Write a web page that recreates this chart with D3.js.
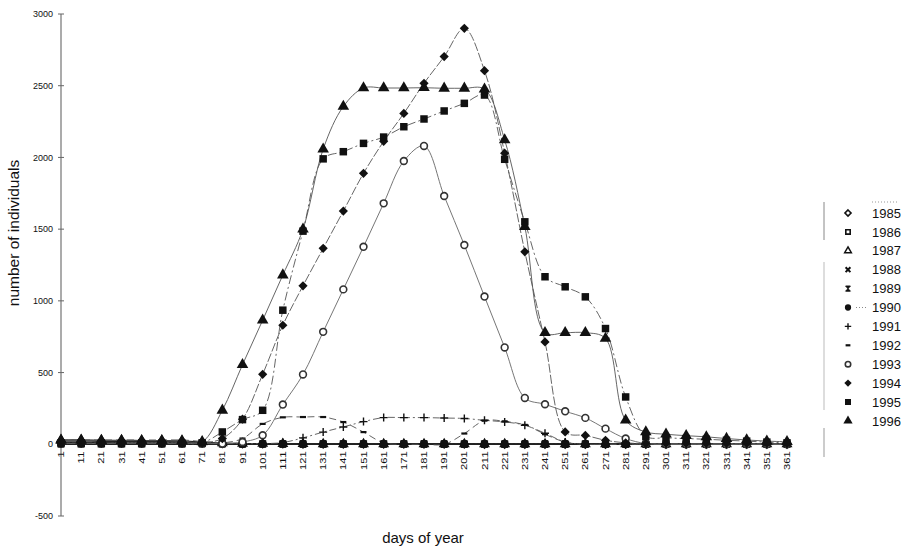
<!DOCTYPE html>
<html>
<head>
<meta charset="utf-8">
<script src="https://cdn.jsdelivr.net/npm/d3@7/dist/d3.min.js"></script>
<style>
  body { margin: 0; background: #fff; }
  text { font-family: Arial, "Liberation Sans", sans-serif; fill: #111; }
</style>
</head>
<body>
<svg id="chart" width="907" height="550"></svg>
<script>
// Sampling days (every 10th day of the year)
const days = [1, 11, 21, 31, 41, 51, 61, 71, 81, 91, 101, 111, 121, 131, 141, 151, 161, 171, 181,
              191, 201, 211, 221, 231, 241, 251, 261, 271, 281, 291, 301, 311, 321, 331, 341, 351, 361];

const yTicks = [-500, 0, 500, 1000, 1500, 2000, 2500, 3000];

const years = ["1985", "1986", "1987", "1988", "1989", "1990", "1991", "1992", "1993", "1994", "1995", "1996"];

// Counts per sampling day, one array per year
const v1985 = [22, 22, 20, 20, 18, 18, 16, 10, 5, 4, 3, 3, 2, 2, 2, 2, 2, 2, 2, 2, 2, 0, 0, 0, 0, 0, 0, 0, 0, 0, 0, 0, 0, 0, 0, 0, 0];
const v1986 = [12, 12, 12, 10, 10, 10, 10, 8, 4, 3, 2, 2, 2, 2, 2, 2, 2, 2, 2, 0, 0, 0, 0, 0, 0, 0, 0, 0, 0, 0, 0, 0, 0, 0, 0, 0, 0];
const v1987 = [30, 30, 28, 28, 26, 26, 24, 15, 8, 5, 4, 3, 3, 2, 2, 2, 2, 2, 2, 2, 2, 2, 2, 2, 2, 2, 2, 2, 2, 2, 2, 2, 2, 2, 2, 2, 2];
const v1988 = [5, 5, 5, 5, 5, 5, 5, 5, 4, 3, 3, 2, 2, 2, 2, 2, 2, 2, 2, 2, 2, 2, 2, 2, 2, 2, 2, 2, 2, 2, 2, 2, 2, 2, 2, 2, 2];
const v1989 = [3, 3, 3, 3, 3, 3, 3, 3, 3, 2, 2, 2, 2, 2, 2, 2, 2, 2, 2, 2, 2, 2, 2, 2, 2, 2, 2, 2, 2, 2, 2, 2, 2, 2, 2, 2, 2];
const v1990 = [8, 8, 8, 8, 8, 8, 8, 8, 6, 5, 5, 5, 3, 3, 3, 3, 3, 3, 3, 3, 3, 3, 3, 3, 3, 3, 3, 3, 3, 3, 3, 3, 3, 3, 3, 3, 3];
const v1991 = [5, 5, 5, 5, 5, 5, 5, 5, 5, 5, 5, 12, 45, 85, 121, 158, 186, 186, 186, 183, 180, 167, 156, 133, 77, 16, 0, 0, 0, 0, 0, 0, 0, 0, 0, 0, 0];
const v1992 = [30, 30, 30, 30, 30, 30, 30, 20, 10, 40, 142, 188, 190, 190, 155, 85, 10, 0, 0, 0, 75, 165, 160, 135, 70, 15, 0, 0, 0, 0, 0, 0, 0, 0, 0, 0, 0];
const v1993 = [5, 5, 5, 5, 5, 5, 5, 5, 5, 16, 63, 277, 487, 784, 1080, 1377, 1680, 1975, 2080, 1731, 1389, 1030, 675, 323, 279, 230, 184, 109, 40, 5, 0, 0, 0, 0, 0, 0, 0];
const v1994 = [8, 8, 8, 8, 8, 8, 8, 10, 40, 175, 488, 830, 1105, 1366, 1626, 1889, 2112, 2307, 2517, 2703, 2900, 2605, 2030, 1342, 714, 86, 62, 28, 10, 5, 5, 5, 5, 5, 5, 5, 5];
const v1995 = [5, 5, 5, 5, 5, 5, 5, 10, 86, 172, 237, 935, 1486, 1990, 2040, 2098, 2142, 2214, 2268, 2324, 2377, 2435, 1987, 1551, 1168, 1098, 1028, 807, 330, 56, 45, 40, 35, 28, 22, 15, 10];
const v1996 = [28, 28, 26, 26, 25, 25, 24, 18, 237, 555, 865, 1180, 1500, 2058, 2355, 2484, 2484, 2484, 2486, 2482, 2482, 2476, 2122, 1517, 778, 778, 778, 738, 168, 86, 70, 60, 52, 40, 30, 22, 18];

const valuesByYear = [v1985, v1986, v1987, v1988, v1989, v1990, v1991, v1992, v1993, v1994, v1995, v1996];

// Marker and line style per year
const styles = {
  "1985": { marker: "diamondOpen",  line: "#222", dash: null,          width: 1.2 },
  "1986": { marker: "squareOpen",   line: "#222", dash: null,          width: 1.2 },
  "1987": { marker: "triangleOpen", line: "#222", dash: null,          width: 1.2 },
  "1988": { marker: "cross",        line: "#222", dash: null,          width: 1.2 },
  "1989": { marker: "hourglass",    line: "#222", dash: null,          width: 1.2 },
  "1990": { marker: "circle",       line: "#222", dash: "2,2",         width: 1.2 },
  "1991": { marker: "plus",         line: "#555", dash: "7,3,2,3",     width: 0.9 },
  "1992": { marker: "dash",         line: "#555", dash: "7,4",         width: 0.9 },
  "1993": { marker: "circleOpen",   line: "#666", dash: null,          width: 0.9 },
  "1994": { marker: "diamond",      line: "#555", dash: "9,2",         width: 0.9 },
  "1995": { marker: "square",       line: "#555", dash: "9,3,2,3",     width: 0.9 },
  "1996": { marker: "triangle",     line: "#555", dash: null,          width: 0.9 }
};

const series = years.map((y, i) => ({
  year: y,
  style: styles[y],
  points: days.map((d, j) => ({ day: d, value: valuesByYear[i][j] }))
}));

const svg = d3.select("#chart");
svg.append("rect").attr("width", 907).attr("height", 550).attr("fill", "#fff");

const x = d3.scalePoint().domain(days).range([61, 787]);
const y = d3.scaleLinear().domain([-500, 3000]).range([516, 14]);

// Rhombus with equal width and height, half-diagonal r
const rhombus = r => `M0,${-r}L${r},0L0,${r}L${-r},0Z`;

// Draws one marker shape into a <g> selection
function drawMarker(g, type, s) {
  const sym = (t, size) => d3.symbol(t, size * s * s)();
  switch (type) {
    case "diamondOpen":
      g.append("path").attr("d", rhombus(3.8 * s)).attr("fill", "#fff").attr("stroke", "#111").attr("stroke-width", 1.6);
      break;
    case "squareOpen":
      g.append("path").attr("d", sym(d3.symbolSquare, 30)).attr("fill", "#fff").attr("stroke", "#111").attr("stroke-width", 1.6);
      break;
    case "triangleOpen":
      g.append("path").attr("d", sym(d3.symbolTriangle, 30)).attr("fill", "#fff").attr("stroke", "#111").attr("stroke-width", 1.5);
      break;
    case "cross":
      g.append("path").attr("d", `M${-3 * s},${-3 * s}L${3 * s},${3 * s}M${-3 * s},${3 * s}L${3 * s},${-3 * s}`)
        .attr("stroke", "#111").attr("stroke-width", 2).attr("fill", "none");
      break;
    case "hourglass":
      g.append("path").attr("d", `M${-3 * s},${-3.2 * s}H${3 * s}L${-3 * s},${3.2 * s}H${3 * s}Z`)
        .attr("fill", "#111").attr("stroke", "#111").attr("stroke-width", 1);
      break;
    case "circle":
      g.append("path").attr("d", sym(d3.symbolCircle, 48)).attr("fill", "#111");
      break;
    case "plus":
      g.append("path").attr("d", `M${-4 * s},0H${4 * s}M0,${-4 * s}V${4 * s}`)
        .attr("stroke", "#111").attr("stroke-width", 1.4).attr("fill", "none");
      break;
    case "dash":
      g.append("path").attr("d", `M${-3 * s},0H${3 * s}`).attr("stroke", "#111").attr("stroke-width", 2.2);
      break;
    case "circleOpen":
      g.append("circle").attr("r", 3.4 * s).attr("fill", "#fff").attr("stroke", "#333").attr("stroke-width", 1.6);
      break;
    case "diamond":
      g.append("path").attr("d", rhombus(4.6 * s)).attr("fill", "#111");
      break;
    case "square":
      g.append("path").attr("d", sym(d3.symbolSquare, 56)).attr("fill", "#111");
      break;
    case "triangle":
      g.append("path").attr("d", sym(d3.symbolTriangle, 58)).attr("fill", "#111");
      break;
  }
}

// Value axis
const yAxis = svg.append("g").attr("transform", "translate(61,0)");
yAxis.append("line").attr("y1", y(3000)).attr("y2", y(-500)).attr("stroke", "#666").attr("stroke-width", 1.1);
yAxis.selectAll(".tick").data(yTicks).join("g")
  .attr("transform", d => `translate(0,${y(d)})`)
  .each(function (d) {
    const t = d3.select(this);
    t.append("line").attr("x1", -3).attr("x2", 3).attr("stroke", "#666");
    t.append("text").attr("x", -8).attr("dy", "0.35em").attr("text-anchor", "end")
      .attr("font-size", 9).text(d);
  });

// Day axis at zero
svg.append("line").attr("x1", x(days[0])).attr("x2", x(days[days.length - 1]))
  .attr("y1", y(0)).attr("y2", y(0)).attr("stroke", "#111").attr("stroke-width", 1.4);
svg.append("g").selectAll("text").data(days).join("text")
  .attr("transform", d => `translate(${x(d) + 3},${y(0) + 7}) rotate(-90)`)
  .attr("text-anchor", "end")
  .attr("font-size", 9)
  .attr("textLength", d => String(d).length * 6.2)
  .attr("lengthAdjust", "spacingAndGlyphs")
  .text(d => d);

// Axis titles
svg.append("text").attr("transform", "translate(19,233) rotate(-90)")
  .attr("text-anchor", "middle").attr("font-size", 15.5).text("number of individuals");
svg.append("text").attr("x", 423).attr("y", 543)
  .attr("text-anchor", "middle").attr("font-size", 15).text("days of year");

// Smoothed lines
const line = d3.line().x(d => x(d.day)).y(d => y(d.value)).curve(d3.curveCatmullRom.alpha(0.5));
const plot = svg.append("g");
plot.selectAll(".series-line").data(series).join("path")
  .attr("class", "series-line")
  .attr("d", s => line(s.points))
  .attr("fill", "none")
  .attr("stroke", s => s.style.line)
  .attr("stroke-width", s => s.style.width)
  .attr("stroke-dasharray", s => s.style.dash);

// Markers
series.forEach(s => {
  plot.append("g").selectAll("g").data(s.points).join("g")
    .attr("transform", d => `translate(${x(d.day)},${y(d.value)})`)
    .each(function () { drawMarker(d3.select(this), s.style.marker, 1); });
});

// Legend
const legend = svg.append("g");
legend.append("line").attr("x1", 824).attr("x2", 824).attr("y1", 202).attr("y2", 240).attr("stroke", "#888");
legend.append("line").attr("x1", 824).attr("x2", 824).attr("y1", 262).attr("y2", 410).attr("stroke", "#bbb");
legend.append("line").attr("x1", 824).attr("x2", 824).attr("y1", 428).attr("y2", 457).attr("stroke", "#999");
legend.append("line").attr("x1", 872).attr("x2", 897).attr("y1", 202).attr("y2", 202)
  .attr("stroke", "#999").attr("stroke-dasharray", "1,2");
const item = legend.selectAll(".item").data(series).join("g")
  .attr("class", "item")
  .attr("transform", (s, i) => `translate(0,${213 + i * 18.9})`);
item.each(function (s) {
  const g = d3.select(this).append("g").attr("transform", "translate(848,0)");
  drawMarker(g, s.style.marker, 0.8);
});
item.filter(s => s.year === "1990").append("line")
  .attr("x1", 856).attr("x2", 868).attr("stroke", "#888").attr("stroke-dasharray", "1,2");
item.append("text").attr("x", 872).attr("dy", "0.36em").attr("font-size", 13).text(s => s.year);
</script>
</body>
</html>
